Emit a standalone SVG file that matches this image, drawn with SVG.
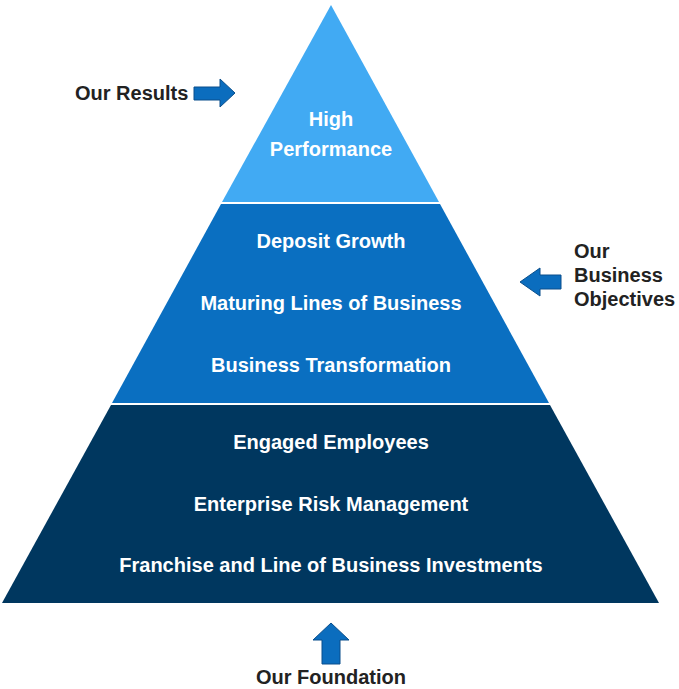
<svg xmlns="http://www.w3.org/2000/svg" width="679" height="689" viewBox="0 0 679 689">
<defs>
<style>
.t{font-family:"Liberation Sans",Arial,sans-serif;font-weight:bold;font-size:20px;fill:#ffffff;text-anchor:middle}
.l{font-family:"Liberation Sans",Arial,sans-serif;font-weight:bold;font-size:20px;fill:#222222}
.arr{fill:#0B6DBE;stroke:#0A4F8C;stroke-width:1}
</style>
</defs>
<rect width="679" height="689" fill="#ffffff"/>
<g id="tier-top">
<polygon points="331,5 439,202 222,202" fill="#41AAF3"/>
<text class="t" x="331" y="126">High</text>
<text class="t" x="331" y="156">Performance</text>
</g>
<g id="tier-middle">
<polygon points="221,204 440,204 549,403 112,403" fill="#0A6FC1"/>
<text class="t" x="331" y="248">Deposit Growth</text>
<text class="t" x="331" y="310">Maturing Lines of Business</text>
<text class="t" x="331" y="372">Business Transformation</text>
</g>
<g id="tier-bottom">
<polygon points="111,405 550,405 659,603 2,603" fill="#00375F"/>
<text class="t" x="331" y="449">Engaged Employees</text>
<text class="t" x="331" y="511">Enterprise Risk Management</text>
<text class="t" x="331" y="572">Franchise and Line of Business Investments</text>
</g>
<g id="label-results">
<text class="l" x="75" y="100">Our Results</text>
</g>
<g id="label-objectives">
<text class="l" x="574" y="258">Our</text>
<text class="l" x="574" y="282">Business</text>
<text class="l" x="574" y="306">Objectives</text>
</g>
<g id="label-foundation">
<text class="l" x="331" y="684" text-anchor="middle">Our Foundation</text>
</g>
<g id="connectors">
<polygon class="arr" points="194,87 220,87 220,79 235,93 220,107 220,100 194,100"/>
<polygon class="arr" points="561,275 540,275 540,268 520,282 540,296 540,289 561,289"/>
<polygon class="arr" points="322,664 322,640 313,640 331,623 349,640 340,640 340,664"/>
</g>
</svg>
